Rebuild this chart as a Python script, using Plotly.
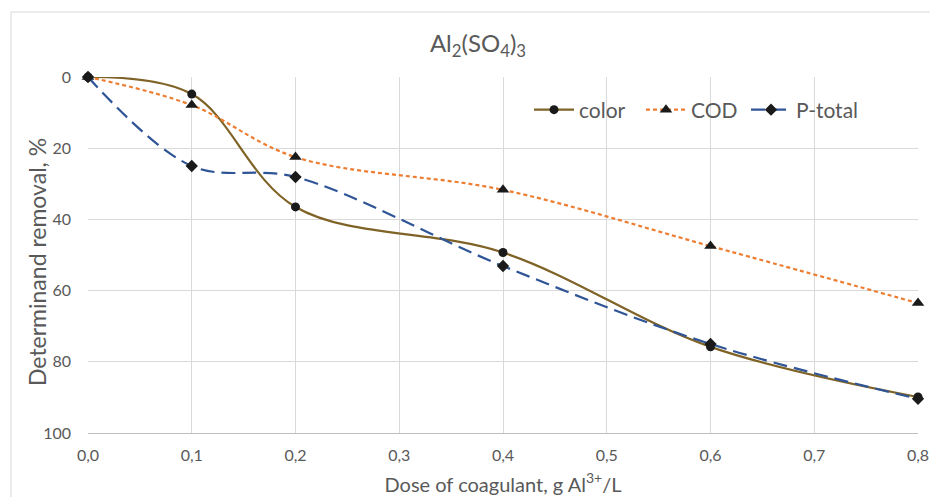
import plotly.graph_objects as go

dose = [0.0, 0.1, 0.2, 0.4, 0.6, 0.8]
color_removal = [0, 4.8, 36.5, 49.3, 75.8, 89.9]
cod_removal = [0, 7.9, 22.5, 31.7, 47.5, 63.5]
ptotal_removal = [0, 25, 28.1, 53.1, 75, 90.4]
x_ticks = [0.0, 0.1, 0.2, 0.3, 0.4, 0.5, 0.6, 0.7, 0.8]
y_ticks = [0, 20, 40, 60, 80, 100]

FONT = "Lato"
GRAY = "#595959"

fig = go.Figure()
fig.add_trace(go.Scatter(
    x=dose, y=color_removal, name="color", mode="lines+markers", legend="legend",
    line=dict(color="#7F6226", width=2.2, shape="spline", smoothing=1.0),
    marker=dict(symbol="circle", size=9, color="#1a1a1a"),
    cliponaxis=False))
fig.add_trace(go.Scatter(
    x=dose, y=cod_removal, name="COD", mode="lines+markers", legend="legend2",
    line=dict(color="#ED7D31", width=2.2, shape="spline", smoothing=1.0, dash="4px,3px"),
    marker=dict(symbol="triangle-up", size=11, color="#1a1a1a"),
    cliponaxis=False))
fig.add_trace(go.Scatter(
    x=dose, y=ptotal_removal, name="P-total", mode="lines+markers", legend="legend3",
    line=dict(color="#2F5597", width=2.2, shape="spline", smoothing=1.0, dash="14px,7px"),
    marker=dict(symbol="diamond", size=9.5, color="#1a1a1a"),
    cliponaxis=False))


def leg(px):
    return dict(orientation="h", x=(px - 4 - 88) / 830, y=(433 - 110) / 356,
                xanchor="left", yanchor="middle", bgcolor="rgba(0,0,0,0)",
                font=dict(size=21, color=GRAY, family=FONT), itemwidth=40)


# page body has an 8px margin: figure is 8px smaller and margins shifted accordingly
fig.update_layout(
    width=930, height=489,
    margin=dict(l=80, r=20, t=69, b=64),
    paper_bgcolor="white", plot_bgcolor="white",
    separators=", ",
    font=dict(family=FONT, color=GRAY, size=16),
    title=dict(text="Al<sub>2</sub>(SO<sub>4</sub>)<sub>3</sub>", x=(478 - 8) / 930, xanchor="center",
               xref="container", y=1 - 36 / 489, yanchor="middle",
               font=dict(size=24, color=GRAY, family=FONT)),
    showlegend=True,
    legend=leg(533), legend2=leg(645), legend3=leg(750),
    xaxis=dict(range=[0, 0.8], tickvals=x_ticks, tickformat=".1f", automargin=False,
               showgrid=True, gridcolor="#d9d9d9", gridwidth=1,
               zeroline=False, showline=True, linecolor="#bfbfbf", linewidth=1,
               ticks="", tickfont=dict(size=16, color=GRAY), ticklabelstandoff=8,
               title=dict(text="Dose of coagulant, g Al<sup>3+</sup>/L", font=dict(size=20, color=GRAY),
                          standoff=14)),
    yaxis=dict(range=[100, 0], tickvals=y_ticks, automargin=False,
               showgrid=True, gridcolor="#d9d9d9", gridwidth=1,
               zeroline=False, showline=False,
               ticks="", tickfont=dict(size=16, color=GRAY), ticklabelstandoff=16),
    annotations=[dict(text="Determinand removal, %", textangle=-90, showarrow=False,
                      xref="paper", yref="paper", x=(37 - 88) / 830, y=(433 - 262) / 356,
                      xanchor="center", yanchor="middle",
                      font=dict(size=23, color=GRAY, family=FONT))],
    shapes=[dict(type="rect", xref="paper", yref="paper",
                 x0=(11 - 88) / 830, x1=1.2, y0=-0.3, y1=(433 - 12) / 356,
                 line=dict(color="#d9d9d9", width=1), fillcolor="rgba(0,0,0,0)", layer="below")],
)

fig.write_html("out.html")
